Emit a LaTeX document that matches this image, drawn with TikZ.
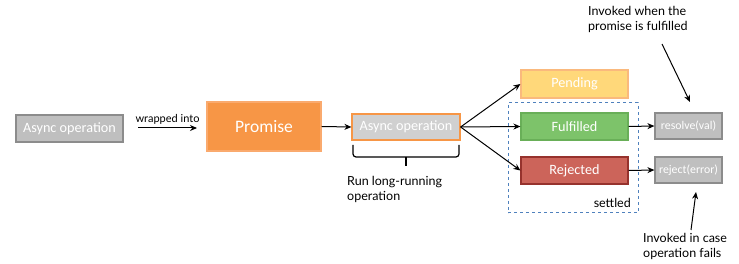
\documentclass[tikz,border=0pt]{standalone}
\usepackage{fontspec}
\setmainfont{Carlito}
\newfontfamily\notefont{Lato}
\usetikzlibrary{arrows.meta}
\definecolor{grayfill}{RGB}{191,191,191}
\definecolor{grayline}{RGB}{140,140,140}
\definecolor{midfill}{RGB}{208,208,208}
\definecolor{orfill}{RGB}{247,150,70}
\definecolor{orline}{RGB}{250,170,110}
\definecolor{penfill}{RGB}{255,216,122}
\definecolor{penline}{RGB}{250,185,125}
\definecolor{grfill}{RGB}{125,195,106}
\definecolor{grline}{RGB}{105,175,88}
\definecolor{redfill}{RGB}{204,100,90}
\definecolor{redline}{RGB}{150,50,45}
\definecolor{dashblue}{RGB}{79,129,189}
\begin{document}
\begin{tikzpicture}[x=1pt,y=-1pt,
  box/.style={draw, line width=1.2pt, text=white, inner sep=0pt, font=\fontsize{14.2}{16}\selectfont},
  graybox/.style={box, fill=grayfill, draw=grayline},
  arr/.style={-{Stealth[length=7pt,width=6pt]}, line width=1pt, black},
  note/.style={font=\notefont\fontsize{12.5}{15}\selectfont, align=left, inner sep=0pt, anchor=north west}
]
\useasboundingbox (0,0) rectangle (739,264);
\node[graybox, minimum width=107pt, minimum height=27pt] (L) at (69.5,128.5) {Async operation};
\node[box, fill=orfill, draw=orline, minimum width=114pt, minimum height=49pt, font=\fontsize{17.5}{20}\selectfont] (P) at (264,126.5) {Promise};
\node[box, fill=midfill, draw=orfill, minimum width=108pt, minimum height=26pt] (M) at (406,127) {Async operation};
\node[box, fill=penfill, draw=penline, minimum width=107pt, minimum height=28pt] (Pe) at (574.5,84) {Pending};
\node[box, fill=grfill, draw=grline, minimum width=107pt, minimum height=27pt] (F) at (574.5,126.5) {Fulfilled};
\node[box, fill=redfill, draw=redline, minimum width=107pt, minimum height=27pt] (R) at (574.5,170.5) {Rejected};
\node[graybox, minimum width=67pt, minimum height=26pt, font=\fontsize{11.8}{14}\selectfont] (Rs) at (688.5,126) {resolve(val)};
\node[graybox, minimum width=67pt, minimum height=26pt, font=\fontsize{11.8}{14}\selectfont] (Rj) at (688.5,170) {reject(error)};
\node[draw=dashblue, dashed, line width=1pt, minimum width=130pt, minimum height=110pt, inner sep=0pt] (S) at (573,158) {};
\node[note, anchor=south east] (st) at (631,208) {settled};
% arrows
\coordinate (w1) at (138,128);
\coordinate (w2) at (197,128);
\draw[arr] (w1) -- node[above=3pt, font=\notefont\fontsize{11}{13}\selectfont, inner sep=0pt] (wl) {wrapped into} (w2);
\draw[arr] (P.east) -- (M.west);
\draw[arr] (M.east) -- (Pe.west);
\draw[arr] (M.east) -- (F.west);
\draw[arr] (M.east) -- (R.west);
\draw[arr] (F.east) -- (Rs.west);
\draw[arr] (R.east) -- (Rj.west);
% brace
\coordinate (b1) at (353,145);
\coordinate (b2) at (459,145);
\coordinate (bm) at (406,157);
\coordinate (bt) at (406,166);
\draw[line width=1.2pt, rounded corners=3pt] (b1) |- (bm) -| (b2);
\draw[line width=1.2pt] (bm) -- (bt);
\node[note] (run) at (347,176) {Run long-running\\operation};
% annotations
\node[note] (n1) at (588,6) {Invoked when the\\promise is fulfilled};
\coordinate (a1) at (662,44);
\coordinate (a2) at (690,102);
\draw[arr] (a1) -- (a2);
\node[note] (n2) at (643,233) {Invoked in case\\operation fails};
\coordinate (c1) at (691,230);
\coordinate (c2) at (696,192);
\draw[arr] (c1) -- (c2);
\end{tikzpicture}
\end{document}
